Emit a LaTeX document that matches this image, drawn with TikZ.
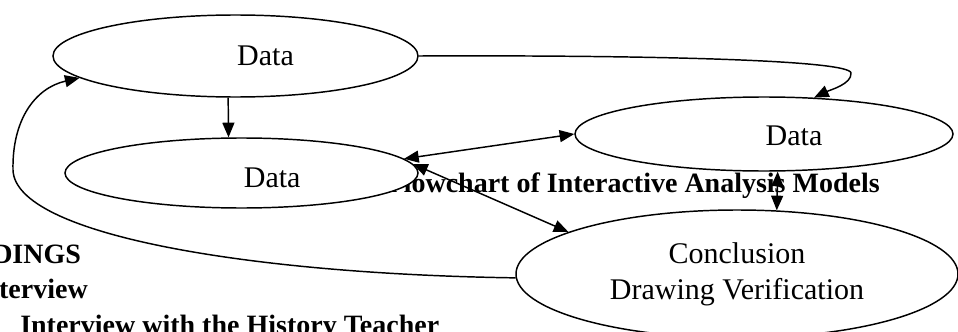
\documentclass[tikz,border=0pt]{standalone}
\usepackage{fontspec}
\setmainfont{Liberation Serif}
\usetikzlibrary{shapes.geometric,arrows.meta}

\begin{document}
\begin{tikzpicture}[x=0.75pt,y=-0.75pt]
\tikzstyle{dataellipse} = [ellipse, draw=black, line width=1.1pt, fill=white, inner sep=0pt]
\tikzstyle{datatext} = [inner sep=0pt, font=\fontsize{22.5pt}{27pt}\selectfont]
\tikzstyle{heading} = [inner sep=0pt, font=\bfseries\fontsize{21pt}{25pt}\selectfont]
\tikzstyle{arrow} = [line width=1.1pt, -{Triangle[length=11pt,width=9pt]}]
\tikzstyle{twoway} = [line width=1.1pt, {Triangle[length=11pt,width=9pt]}-{Triangle[length=11pt,width=9pt]}]

\useasboundingbox (0,0) rectangle (958,332);
\clip (0,0) rectangle (958,332);

% page text behind the chart
\node(flowTitle) [heading, anchor=base east] at (880,192) {Flowchart of Interactive Analysis Models};
\node(findings) [heading, anchor=base west] at (-8,263) {DINGS};
\node(interview) [heading, anchor=base east] at (88,298) {terview};
\node(teacher) [heading, anchor=base west] at (20,334) {Interview with the History Teacher};

% the four stages
\node(dataTop) [dataellipse, minimum width=273.75pt, minimum height=61.5pt, label={[datatext, xshift=22.5pt]center:Data}] at (235.5,56) {};
\node(dataMid) [dataellipse, minimum width=264.75pt, minimum height=52.5pt, label={[datatext, xshift=23pt, yshift=-3.75pt]center:Data}] at (241.5,173) {};
\node(dataRight) [dataellipse, minimum width=283.5pt, minimum height=55.5pt, label={[datatext, xshift=22.5pt, yshift=-1.5pt]center:Data}] at (764,134) {};
\node(concl) [dataellipse, minimum width=331.5pt, minimum height=96pt, align=center, font=\fontsize{22.5pt}{27pt}\selectfont] at (737,274) {Conclusion\\Drawing Verification};

% connectors
\draw[arrow] (dataTop.260) -- (dataMid.110);
\draw[arrow] (dataTop.east) .. controls (650,55) and (850,60) .. (851,73) .. controls (852,84) and (830,90) .. (dataRight.36);
\draw[twoway] (dataMid.5) -- (dataRight.west);
\draw[twoway] (dataMid.3) -- (concl.166);
\draw[twoway] (dataRight.290) -- (concl.58);
\draw[arrow] (concl.181) .. controls (250,274) and (15,235) .. (13,170) .. controls (12,120) and (35,88) .. (dataTop.188);
\end{tikzpicture}
\end{document}
